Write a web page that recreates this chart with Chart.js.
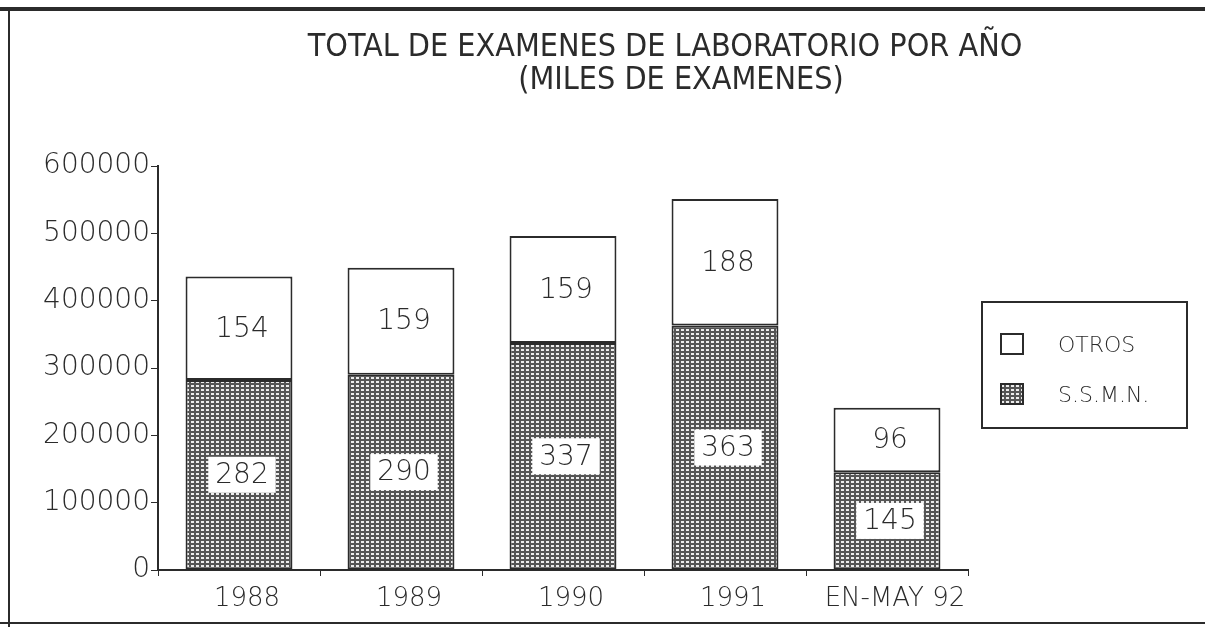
<!DOCTYPE html>
<html>
<head>
<meta charset="utf-8">
<script src="https://cdn.jsdelivr.net/npm/chart.js@4/dist/chart.umd.min.js"></script>
<style>
  html, body { margin: 0; padding: 0; background: #fff; }
  #wrap { position: relative; width: 1205px; height: 627px; overflow: hidden; }
</style>
</head>
<body>
<div id="wrap"><canvas id="labChart" width="1205" height="627"></canvas></div>
<script>
// datos (examenes por año)
var categories = ['1988', '1989', '1990', '1991', 'EN-MAY 92'];
var ssmnValues = [282000, 290000, 337000, 363000, 145000];
var otrosValues = [154000, 159000, 159000, 188000, 96000];
var seriesNames = ['OTROS', 'S.S.M.N.'];
var yTickValues = [0, 100000, 200000, 300000, 400000, 500000, 600000];
var titleLines = ['TOTAL DE EXAMENES DE LABORATORIO POR AÑO', '(MILES DE EXAMENES)'];

var ink = '#2b2b2b';
var numFont = "'DejaVu Sans'";

// dotted grid fill, like the old printer shading
function makeHatch() {
    var c = document.createElement('canvas');
    c.width = 5; c.height = 4;
    var g = c.getContext('2d');
    g.fillStyle = '#555';
    g.fillRect(0, 0, 5, 4);
    g.fillStyle = '#ececec';
    g.fillRect(1, 1, 3, 2);
    return g.createPattern(c, 'repeat');
}
var ctx = document.getElementById('labChart').getContext('2d');
var hatch = makeHatch();

var frameAndTitle = {
    id: 'frameAndTitle',
    afterDraw: function (chart) {
        var g = chart.ctx;
        g.save();
        g.fillStyle = ink;
        g.fillRect(0, 7, 1205, 4);
        g.fillRect(8, 7, 2, 620);
        g.fillRect(0, 622, 1205, 2);
        g.font = "32px 'DejaVu Sans Condensed'";
        g.textAlign = 'center';
        g.textBaseline = 'middle';
        g.fillText(titleLines[0], 665, 48);
        g.fillText(titleLines[1], 681, 81);
        g.restore();
    }
};

var valueLabels = {
    id: 'valueLabels',
    afterDatasetsDraw: function (chart) {
        var g = chart.ctx;
        g.save();
        g.font = '200 28px ' + numFont;
        g.textAlign = 'center';
        g.textBaseline = 'middle';
        chart.data.datasets.forEach(function (ds, di) {
            chart.getDatasetMeta(di).data.forEach(function (bar, i) {
                var txt = String(Math.round(ds.data[i] / 1000));
                var cy = (bar.y + bar.base) / 2;
                var cx = bar.x + 3;
                if (ds.label === 'S.S.M.N.') {
                    var w = g.measureText(txt).width + 14;
                    g.fillStyle = '#fff';
                    g.fillRect(cx - w / 2, cy - 18, w, 36);
                }
                g.fillStyle = ink;
                g.fillText(txt, cx, cy + 1);
            });
        });
        g.restore();
    }
};

var boxLegend = {
    id: 'boxLegend',
    afterDraw: function (chart) {
        var g = chart.ctx;
        var ds = chart.data.datasets.slice().reverse();
        g.save();
        g.strokeStyle = ink;
        g.lineWidth = 2;
        g.strokeRect(982, 302, 205, 126);
        g.font = '200 22px ' + numFont;
        g.textBaseline = 'middle';
        g.textAlign = 'left';
        for (var k = 0; k < ds.length; k++) {
            var y = 334 + k * 50;
            g.fillStyle = ds[k].backgroundColor;
            g.fillRect(1001, y, 22, 20);
            g.strokeRect(1001, y, 22, 20);
            g.fillStyle = ink;
            g.fillText(ds[k].label, 1058, y + 12);
        }
        g.restore();
    }
};

new Chart(ctx, {
    type: 'bar',
    data: {
        labels: categories,
        datasets: [{
            label: seriesNames[1],
            data: ssmnValues,
            backgroundColor: hatch,
            borderColor: ink,
            borderWidth: 2,
            borderSkipped: false,
            categoryPercentage: 0.66,
            barPercentage: 1
        }, {
            label: seriesNames[0],
            data: otrosValues,
            backgroundColor: '#ffffff',
            borderColor: ink,
            borderWidth: 2,
            borderSkipped: false,
            categoryPercentage: 0.66,
            barPercentage: 1
        }]
    },
    options: {
        responsive: false,
        animation: false,
        layout: { padding: { left: 10, right: 237, top: 166, bottom: 0 } },
        plugins: {
            legend: { display: false },
            title: { display: false },
            tooltip: { enabled: false }
        },
        scales: {
            x: {
                stacked: true,
                grid: { drawOnChartArea: false, offset: true, tickLength: 6, color: ink },
                border: { color: ink, width: 2 },
                ticks: { color: ink, padding: 8, labelOffset: 8, font: { family: numFont, size: 26, weight: '200' } },
                afterFit: function (s) { s.height = 57; }
            },
            y: {
                stacked: true,
                min: 0,
                max: 600000,
                afterBuildTicks: function (s) {
                    s.ticks = yTickValues.map(function (v) { return { value: v }; });
                },
                grid: { drawOnChartArea: false, tickLength: 7, color: ink },
                border: { color: ink, width: 2 },
                ticks: {
                    color: ink,
                    padding: 1,
                    font: { family: numFont, size: 28, weight: '200' },
                    callback: function (v) { return String(v); }
                },
                afterFit: function (s) { s.width = 148; }
            }
        }
    },
    plugins: [valueLabels, boxLegend, frameAndTitle]
});
</script>
</body>
</html>
